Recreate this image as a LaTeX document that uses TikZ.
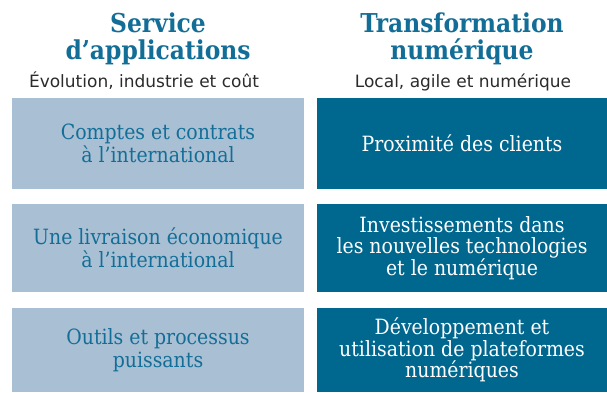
\documentclass[tikz,border=0pt]{standalone}
\usepackage{fontspec}
\usepackage{xcolor}
\usepackage{tikz}
\setmainfont{DejaVu Serif Condensed}
\newfontfamily\subfont{DejaVu Sans}
\usetikzlibrary{positioning}
\definecolor{titleblue}{HTML}{136E97}
\definecolor{paleblue}{HTML}{A9BFD4}
\definecolor{deepblue}{HTML}{00678F}
\definecolor{greytext}{HTML}{2B2B2B}

\begin{document}
\begin{tikzpicture}[x=1pt,y=-1pt,
	head/.style={text=titleblue,align=center,inner sep=0pt,font=\bfseries\fontsize{26}{27}\selectfont},
	sub/.style={text=greytext,anchor=base,inner sep=0pt,font=\subfont\fontsize{17}{20}\selectfont},
	leftbox/.style={fill=paleblue,text=titleblue,align=center,inner sep=0pt,minimum width=292pt,font=\fontsize{21}{23}\selectfont},
	rightbox/.style={fill=deepblue,text=white,align=center,inner sep=0pt,minimum width=290pt,font=\fontsize{21}{21.5}\selectfont}]
		\useasboundingbox (0,0) rectangle (607,392);
		% headings
		\node[head] (lhead) at (158,39) {Service\\d’applications};
		\node[head] (rhead) at (462,39) {Transformation\\numérique};
		\node[sub] (lsub) at (144,87) {Évolution, industrie et coût};
		\node[sub] (rsub) at (463,87) {Local, agile et numérique};
		% left column
		\node[leftbox,minimum height=91pt] (l1) at (158,143.5) {Comptes et contrats\\à l’international};
		\node[leftbox,minimum height=88pt] (l2) at (158,248) {Une livraison économique\\à l’international};
		\node[leftbox,minimum height=84pt] (l3) at (158,350) {Outils et processus\\puissants};
		% right column
		\node[rightbox,minimum height=91pt] (r1) at (462,143.5) {Proximité des clients};
		\node[rightbox,minimum height=88pt] (r2) at (462,248) {Investissements dans\\les nouvelles technologies\\et le numérique};
		\node[rightbox,minimum height=84pt] (r3) at (462,350) {Développement et\\utilisation de plateformes\\numériques};
	\end{tikzpicture}
\end{document}
